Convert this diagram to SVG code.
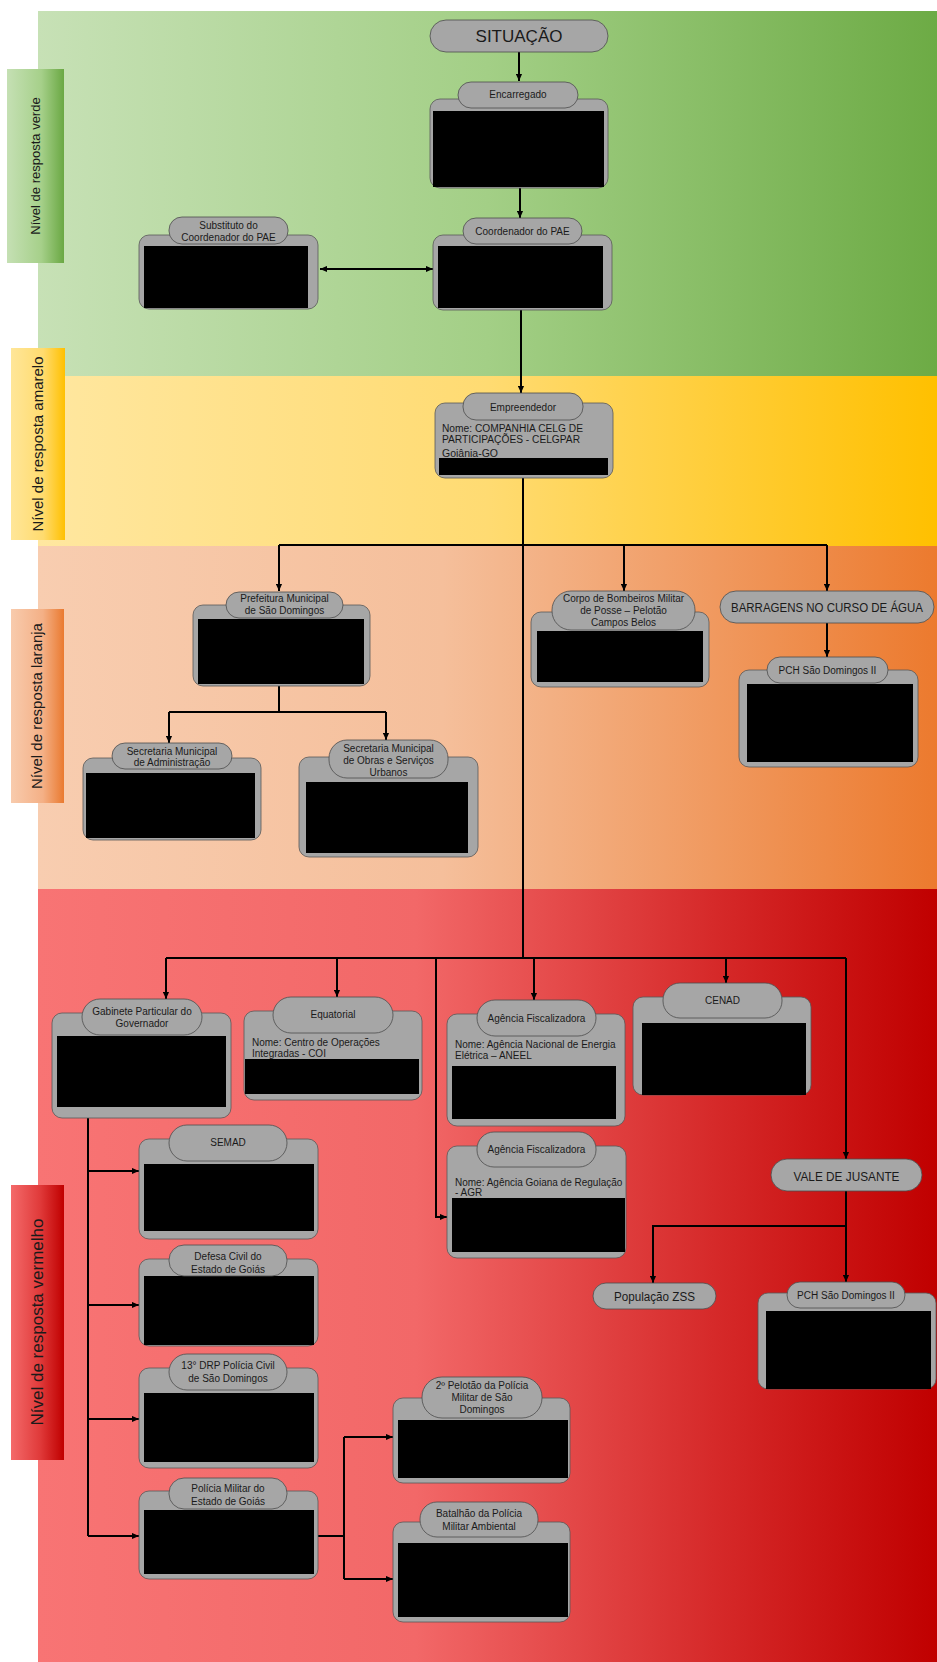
<svg xmlns="http://www.w3.org/2000/svg" width="937" height="1662" viewBox="0 0 937 1662">
<defs>
<linearGradient id="gGreen" x1="0" y1="0" x2="1" y2="0"><stop offset="0" stop-color="#c7e1b6"/><stop offset="0.5" stop-color="#a3cf86"/><stop offset="1" stop-color="#6dab45"/></linearGradient>
<linearGradient id="gYellow" x1="0" y1="0" x2="1" y2="0"><stop offset="0" stop-color="#ffe7a0"/><stop offset="0.5" stop-color="#ffdb72"/><stop offset="1" stop-color="#ffc000"/></linearGradient>
<linearGradient id="gOrange" x1="0" y1="0" x2="1" y2="0"><stop offset="0" stop-color="#f8cdb0"/><stop offset="0.45" stop-color="#f5bf9b"/><stop offset="1" stop-color="#ec7a2e"/></linearGradient>
<linearGradient id="gRed" x1="0" y1="0" x2="1" y2="0"><stop offset="0" stop-color="#f87474"/><stop offset="0.42" stop-color="#f26868"/><stop offset="0.75" stop-color="#d62a2a"/><stop offset="1" stop-color="#c00000"/></linearGradient>
<linearGradient id="lGreen" x1="0" y1="0" x2="1" y2="0"><stop offset="0" stop-color="#c5e0b4"/><stop offset="0.6" stop-color="#a6d08a"/><stop offset="1" stop-color="#6aa843"/></linearGradient>
<linearGradient id="lYellow" x1="0" y1="0" x2="1" y2="0"><stop offset="0" stop-color="#ffe699"/><stop offset="0.6" stop-color="#ffdb6e"/><stop offset="1" stop-color="#ffc000"/></linearGradient>
<linearGradient id="lOrange" x1="0" y1="0" x2="1" y2="0"><stop offset="0" stop-color="#f8cbad"/><stop offset="0.6" stop-color="#f4b086"/><stop offset="1" stop-color="#ea7a30"/></linearGradient>
<linearGradient id="lRed" x1="0" y1="0" x2="1" y2="0"><stop offset="0" stop-color="#f46a6a"/><stop offset="0.55" stop-color="#e03a3a"/><stop offset="1" stop-color="#c00000"/></linearGradient>
<marker id="ah" viewBox="0 0 8 8" refX="8" refY="4" markerWidth="7" markerHeight="7" markerUnits="userSpaceOnUse" orient="auto-start-reverse"><path d="M0,0.5 L8,4 L0,7.5 z" fill="#000"/></marker>
</defs>
<style>
.body{fill:#a6a6a6;stroke:#595959;stroke-width:0.8}
.tab{fill:#a6a6a6;stroke:#4d4d4d;stroke-width:0.8}
.blk{fill:#000}
.t{font-family:"Liberation Sans",Arial,sans-serif;font-size:10px;fill:#1a1a1a;text-anchor:middle}
.tl{font-family:"Liberation Sans",Arial,sans-serif;font-size:10px;fill:#1a1a1a}
.big{font-family:"Liberation Sans",Arial,sans-serif;fill:#1a1a1a;text-anchor:middle}
.lab{font-family:"Liberation Sans",Arial,sans-serif;fill:#1a1a1a;text-anchor:middle}
.c{stroke:#000;stroke-width:2;fill:none}
.ca{stroke:#000;stroke-width:2;fill:none;marker-end:url(#ah)}
</style>

<g id="bands">
<rect x="38" y="11" width="899" height="365" fill="url(#gGreen)"/>
<rect x="38" y="376" width="899" height="170" fill="url(#gYellow)"/>
<rect x="38" y="546" width="899" height="343" fill="url(#gOrange)"/>
<rect x="38" y="889" width="899" height="773" fill="url(#gRed)"/>
</g>

<g id="level-labels">
<g id="label-verde"><rect x="7" y="69" width="57" height="194" fill="url(#lGreen)"/><text class="lab" font-size="13" transform="translate(40,166) rotate(-90)">Nível de resposta verde</text></g>
<g id="label-amarelo"><rect x="11" y="348" width="54" height="192" fill="url(#lYellow)"/><text class="lab" font-size="15" transform="translate(43,444) rotate(-90)">Nível de resposta amarelo</text></g>
<g id="label-laranja"><rect x="11" y="609" width="53" height="194" fill="url(#lOrange)"/><text class="lab" font-size="15" transform="translate(42,706) rotate(-90)">Nível de resposta laranja</text></g>
<g id="label-vermelho"><rect x="11" y="1185" width="53" height="275" fill="url(#lRed)"/><text class="lab" font-size="17" transform="translate(43,1322) rotate(-90)">Nível de resposta vermelho</text></g>
</g>

<g id="connectors">
<line class="ca" x1="519" y1="52" x2="519" y2="81"/>
<line class="ca" x1="520" y1="188" x2="520" y2="218"/>
<line class="c" x1="320" y1="269" x2="433" y2="269" marker-start="url(#ah)" marker-end="url(#ah)"/>
<line class="ca" x1="521" y1="310" x2="521" y2="393"/>
<line class="c" x1="523" y1="478" x2="523" y2="958"/>
<line class="c" x1="279" y1="545" x2="827" y2="545"/>
<line class="ca" x1="279" y1="545" x2="279" y2="591"/>
<line class="ca" x1="624" y1="545" x2="624" y2="591"/>
<line class="ca" x1="827" y1="545" x2="827" y2="591"/>
<line class="ca" x1="827" y1="623" x2="827" y2="657"/>
<line class="c" x1="279" y1="686" x2="279" y2="712"/>
<line class="c" x1="169" y1="712" x2="386" y2="712"/>
<line class="ca" x1="169" y1="712" x2="169" y2="743"/>
<line class="ca" x1="386" y1="712" x2="386" y2="740"/>
<line class="c" x1="166" y1="958" x2="846" y2="958"/>
<line class="ca" x1="166" y1="958" x2="166" y2="999"/>
<line class="ca" x1="337" y1="958" x2="337" y2="997"/>
<line class="ca" x1="534" y1="958" x2="534" y2="1000"/>
<line class="ca" x1="726" y1="958" x2="726" y2="983"/>
<polyline class="ca" points="436,958 436,1217 447,1217"/>
<line class="ca" x1="846" y1="958" x2="846" y2="1159"/>
<line class="ca" x1="846" y1="1191" x2="846" y2="1282"/>
<polyline class="ca" points="846,1226 653,1226 653,1283"/>
<line class="c" x1="88" y1="1118" x2="88" y2="1536"/>
<line class="ca" x1="88" y1="1171" x2="139" y2="1171"/>
<line class="ca" x1="88" y1="1305" x2="139" y2="1305"/>
<line class="ca" x1="88" y1="1419" x2="139" y2="1419"/>
<line class="ca" x1="88" y1="1536" x2="139" y2="1536"/>
<line class="c" x1="318" y1="1536" x2="344" y2="1536"/>
<line class="c" x1="344" y1="1437" x2="344" y2="1579"/>
<line class="ca" x1="344" y1="1437" x2="393" y2="1437"/>
<line class="ca" x1="344" y1="1579" x2="393" y2="1579"/>
</g>

<g id="situacao"><rect class="tab" x="430" y="20" width="178" height="32" rx="16"/><text class="big" x="519" y="42" font-size="17">SITUAÇÃO</text></g>

<g id="encarregado"><rect class="body" x="430" y="99" width="178" height="89" rx="10"/><rect class="blk" x="433" y="111" width="171" height="76"/><rect class="tab" x="458" y="82" width="120" height="26" rx="13"/><text class="t" x="518" y="98">Encarregado</text></g>

<g id="coordenador"><rect class="body" x="433" y="235" width="179" height="75" rx="10"/><rect class="blk" x="438" y="246" width="165" height="62"/><rect class="tab" x="463" y="218" width="119" height="26" rx="13"/><text class="t" x="522.5" y="235">Coordenador do PAE</text></g>

<g id="substituto"><rect class="body" x="139" y="235" width="179" height="74" rx="10"/><rect class="blk" x="144" y="246" width="164" height="62"/><rect class="tab" x="169" y="217" width="119" height="27" rx="13"/><text class="t" x="228.5" y="228.5">Substituto do</text><text class="t" x="228.5" y="240.5">Coordenador do PAE</text></g>

<g id="empreendedor"><rect class="body" x="435" y="403" width="178" height="75" rx="10"/><rect class="tab" x="463" y="393" width="120" height="27" rx="13"/><text class="t" x="523" y="410.5">Empreendedor</text><text class="tl" x="442" y="432" textLength="141" lengthAdjust="spacingAndGlyphs">Nome: COMPANHIA CELG DE</text><text class="tl" x="442" y="442.5" textLength="138" lengthAdjust="spacingAndGlyphs">PARTICIPAÇÕES - CELGPAR</text><text class="tl" x="442" y="456.5" textLength="56" lengthAdjust="spacingAndGlyphs">Goiânia-GO</text><rect class="blk" x="439" y="458" width="169" height="17"/></g>

<g id="prefeitura"><rect class="body" x="193" y="605" width="177" height="81" rx="10"/><rect class="blk" x="198" y="619" width="166" height="65"/><rect class="tab" x="226" y="592" width="117" height="26" rx="13"/><text class="t" x="284.5" y="601.5">Prefeitura Municipal</text><text class="t" x="284.5" y="613.5">de São Domingos</text></g>

<g id="sec-administracao"><rect class="body" x="83" y="758" width="178" height="82" rx="10"/><rect class="blk" x="86" y="773" width="169" height="65"/><rect class="tab" x="112" y="743" width="120" height="26" rx="13"/><text class="t" x="172" y="754.5">Secretaria Municipal</text><text class="t" x="172" y="766">de Administração</text></g>

<g id="sec-obras"><rect class="body" x="299" y="757" width="179" height="100" rx="10"/><rect class="blk" x="306" y="782" width="162" height="71"/><rect class="tab" x="329" y="740" width="119" height="38" rx="18"/><text class="t" x="388.5" y="751.5">Secretaria Municipal</text><text class="t" x="388.5" y="763.5">de Obras e Serviços</text><text class="t" x="388.5" y="775.5">Urbanos</text></g>

<g id="bombeiros"><rect class="body" x="531" y="612" width="178" height="75" rx="10"/><rect class="blk" x="537" y="631" width="166" height="51"/><rect class="tab" x="552" y="591" width="143" height="39" rx="19"/><text class="t" x="623.5" y="601.5">Corpo de Bombeiros Militar</text><text class="t" x="623.5" y="613.5">de Posse – Pelotão</text><text class="t" x="623.5" y="625.5">Campos Belos</text></g>

<g id="barragens"><rect class="tab" x="720" y="591" width="214" height="32" rx="16"/><text class="big" x="827" y="611.5" font-size="12" textLength="192" lengthAdjust="spacingAndGlyphs">BARRAGENS NO CURSO DE ÁGUA</text></g>

<g id="pch1"><rect class="body" x="739" y="670" width="179" height="97" rx="10"/><rect class="blk" x="747" y="684" width="166" height="78"/><rect class="tab" x="767" y="657" width="121" height="26" rx="13"/><text class="t" x="827.5" y="674">PCH São Domingos II</text></g>

<g id="gabinete"><rect class="body" x="52" y="1013" width="179" height="105" rx="10"/><rect class="blk" x="57" y="1036" width="169" height="71"/><rect class="tab" x="82" y="999" width="120" height="36" rx="18"/><text class="t" x="142" y="1014.5">Gabinete Particular do</text><text class="t" x="142" y="1026.5">Governador</text></g>

<g id="equatorial"><rect class="body" x="244" y="1011" width="178" height="89" rx="10"/><rect class="tab" x="273" y="997" width="120" height="36" rx="18"/><text class="t" x="333" y="1018">Equatorial</text><text class="tl" x="252" y="1045.5">Nome: Centro de Operações</text><text class="tl" x="252" y="1056.5">Integradas - COI</text><rect class="blk" x="245" y="1059" width="174" height="35"/></g>

<g id="aneel"><rect class="body" x="447" y="1014" width="178" height="112" rx="10"/><rect class="tab" x="477" y="1000" width="119" height="36" rx="18"/><text class="t" x="536.5" y="1021.5">Agência Fiscalizadora</text><text class="tl" x="455" y="1047.5">Nome: Agência Nacional de Energia</text><text class="tl" x="455" y="1058.5">Elétrica – ANEEL</text><rect class="blk" x="452" y="1066" width="164" height="53"/></g>

<g id="cenad"><rect class="body" x="633" y="997" width="178" height="98" rx="10"/><rect class="blk" x="642" y="1023" width="164" height="72"/><rect class="tab" x="663" y="983" width="119" height="35" rx="17"/><text class="t" x="722.5" y="1004">CENAD</text></g>

<g id="agr"><rect class="body" x="447" y="1146" width="179" height="112" rx="10"/><rect class="tab" x="477" y="1132" width="119" height="35" rx="17"/><text class="t" x="536.5" y="1152.5">Agência Fiscalizadora</text><text class="tl" x="455" y="1185.5">Nome: Agência Goiana de Regulação</text><text class="tl" x="455" y="1195.5">- AGR</text><rect class="blk" x="452" y="1198" width="173" height="54"/></g>

<g id="vale-jusante"><rect class="tab" x="771" y="1159" width="151" height="32" rx="16"/><text class="big" x="846.5" y="1180.5" font-size="12.5" textLength="106" lengthAdjust="spacingAndGlyphs">VALE DE JUSANTE</text></g>

<g id="populacao-zss"><rect class="tab" x="593" y="1283" width="123" height="26" rx="13"/><text class="big" x="654.5" y="1300.5" font-size="12.5" textLength="81" lengthAdjust="spacingAndGlyphs">População ZSS</text></g>

<g id="pch2"><rect class="body" x="758" y="1293" width="178" height="96" rx="10"/><rect class="blk" x="766" y="1311" width="165" height="78"/><rect class="tab" x="787" y="1282" width="118" height="26" rx="13"/><text class="t" x="846" y="1298.5">PCH São Domingos II</text></g>

<g id="semad"><rect class="body" x="139" y="1139" width="179" height="100" rx="10"/><rect class="blk" x="144" y="1164" width="170" height="67"/><rect class="tab" x="169" y="1125" width="118" height="36" rx="18"/><text class="t" x="228" y="1146">SEMAD</text></g>

<g id="defesa-civil"><rect class="body" x="139" y="1259" width="179" height="87" rx="10"/><rect class="blk" x="144" y="1276" width="170" height="69"/><rect class="tab" x="169" y="1245" width="118" height="31" rx="15"/><text class="t" x="228" y="1259.5">Defesa Civil do</text><text class="t" x="228" y="1272.5">Estado de Goiás</text></g>

<g id="drp"><rect class="body" x="139" y="1368" width="179" height="100" rx="10"/><rect class="blk" x="144" y="1393" width="170" height="69"/><rect class="tab" x="169" y="1354" width="118" height="36" rx="18"/><text class="t" x="228" y="1368.5">13° DRP Polícia Civil</text><text class="t" x="228" y="1381.5">de São Domingos</text></g>

<g id="pm-goias"><rect class="body" x="139" y="1491" width="179" height="88" rx="10"/><rect class="blk" x="144" y="1510" width="170" height="64"/><rect class="tab" x="169" y="1478" width="118" height="31" rx="15"/><text class="t" x="228" y="1491.5">Polícia Militar do</text><text class="t" x="228" y="1504.5">Estado de Goiás</text></g>

<g id="pelotao"><rect class="body" x="393" y="1398" width="177" height="85" rx="10"/><rect class="blk" x="398" y="1420" width="170" height="58"/><rect class="tab" x="422" y="1377" width="120" height="41" rx="20"/><text class="t" x="482" y="1388.5">2º Pelotão da Polícia</text><text class="t" x="482" y="1400.5">Militar de São</text><text class="t" x="482" y="1412.5">Domingos</text></g>

<g id="batalhao"><rect class="body" x="393" y="1522" width="177" height="100" rx="10"/><rect class="blk" x="398" y="1543" width="170" height="74"/><rect class="tab" x="420" y="1502" width="118" height="35" rx="17"/><text class="t" x="479" y="1516.5">Batalhão da Polícia</text><text class="t" x="479" y="1529.5">Militar Ambiental</text></g>
</svg>
